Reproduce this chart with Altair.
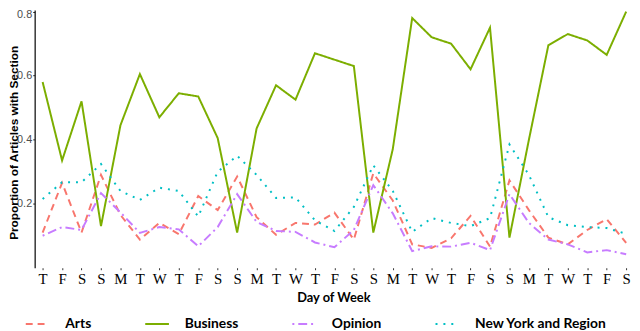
import altair as alt
import pandas as pd

days = ["T", "F", "S", "S", "M", "T", "W", "T", "F", "S", "S", "M", "T", "W",
        "T", "F", "S", "S", "M", "T", "W", "T", "F", "S", "S", "M", "T", "W",
        "T", "F", "S"]

arts = [0.11, 0.265, 0.11, 0.29, 0.165, 0.088, 0.14, 0.105, 0.224, 0.18,
        0.285, 0.158, 0.103, 0.14, 0.135, 0.172, 0.088, 0.295, 0.21, 0.073,
        0.062, 0.092, 0.162, 0.066, 0.273, 0.18, 0.094, 0.073, 0.118, 0.152,
        0.078]
business = [0.58, 0.335, 0.52, 0.13, 0.445, 0.605, 0.47, 0.545, 0.535, 0.405,
            0.11, 0.435, 0.57, 0.525, 0.67, 0.65, 0.63, 0.11, 0.37, 0.78,
            0.72, 0.70, 0.62, 0.75, 0.094, 0.40, 0.695, 0.73, 0.71, 0.665,
            0.80]
opinion = [0.10, 0.127, 0.118, 0.233, 0.173, 0.109, 0.127, 0.12, 0.067, 0.127,
           0.23, 0.143, 0.115, 0.112, 0.079, 0.064, 0.118, 0.258, 0.17, 0.052,
           0.067, 0.066, 0.078, 0.055, 0.23, 0.14, 0.088, 0.073, 0.048, 0.055,
           0.042]
nyregion = [0.215, 0.267, 0.267, 0.324, 0.24, 0.212, 0.25, 0.24, 0.16, 0.30,
            0.35, 0.29, 0.218, 0.22, 0.148, 0.115, 0.19, 0.32, 0.24, 0.112,
            0.155, 0.14, 0.13, 0.155, 0.385, 0.29, 0.158, 0.133, 0.127, 0.124,
            0.106]

sections = ["Arts", "Business", "Opinion", "New York and Region"]
colors = ["#F8766D", "#7CAE00", "#C77CFF", "#00BFC4"]
dashes = [[7, 5], [1, 0], [2, 4, 9, 4], [2, 6]]

rows = []
for name, vals in zip(sections, [arts, business, opinion, nyregion]):
    for i, v in enumerate(vals):
        rows.append({"idx": i, "day": days[i], "section": name, "value": v})
df = pd.DataFrame(rows)

label_expr = "[" + ",".join("'%s'" % d for d in days) + "][datum.value]"

legend = alt.Legend(
    orient="none", legendX=-10, legendY=305, direction="horizontal",
    title=None, symbolType="stroke", symbolSize=576, symbolStrokeWidth=2,
    labelFont="Lato", labelFontSize=14, labelFontWeight="bold",
    labelColor="black", labelOffset=15, columnPadding=50,
)

chart = alt.Chart(df).mark_line(strokeWidth=2, clip=False, strokeCap="butt").encode(
    x=alt.X(
        "idx:Q",
        scale=alt.Scale(domain=[-0.41, 30.3], nice=False, zero=False),
        axis=alt.Axis(
            values=list(range(31)), labelExpr=label_expr, title="Day of Week",
            grid=False, domain=False, tickSize=2, tickColor="#333333",
            labelPadding=2, labelFont="Liberation Serif", labelFontSize=15,
            labelColor="black", labelBaseline="top", labelFlush=False,
            labelOverlap=False, titleFont="Lato", titleFontSize=13,
            titleFontWeight="bold", titleColor="black",
            titleBaseline="alphabetic", titleY=34,
        ),
    ),
    y=alt.Y(
        "value:Q",
        scale=alt.Scale(domain=[0, 0.805], nice=False, zero=False),
        axis=alt.Axis(
            values=[0.2, 0.4, 0.6, 0.8], format=".1f",
            title="Proportion of Articles with Section", grid=False,
            domain=True, domainColor="black", domainWidth=1.2, tickSize=2,
            tickColor="#333333", labelPadding=1, labelFont="Liberation Sans",
            labelFontSize=11, labelColor="#4D4D4D",
            labelOffset=alt.condition("datum.value >= 0.79", alt.value(3), alt.value(0)),
            titleFont="Liberation Sans", titleFontSize=12,
            titleFontWeight="bold", titleColor="black", titleAngle=-90,
            titleBaseline="top", titleX=-26, titleY=134, titleAlign="center",
        ),
    ),
    color=alt.Color("section:N", scale=alt.Scale(domain=sections, range=colors),
                    legend=legend),
    strokeDash=alt.StrokeDash("section:N",
                              scale=alt.Scale(domain=sections, range=dashes),
                              legend=legend),
).properties(
    width=605, height=261,
    autosize=alt.AutoSizeParams(type="none"),
    padding={"left": 27, "top": 0, "right": 0, "bottom": 62},
).configure_view(stroke=None)

chart.save("out.html", embed_options={"renderer": "svg", "actions": False})
